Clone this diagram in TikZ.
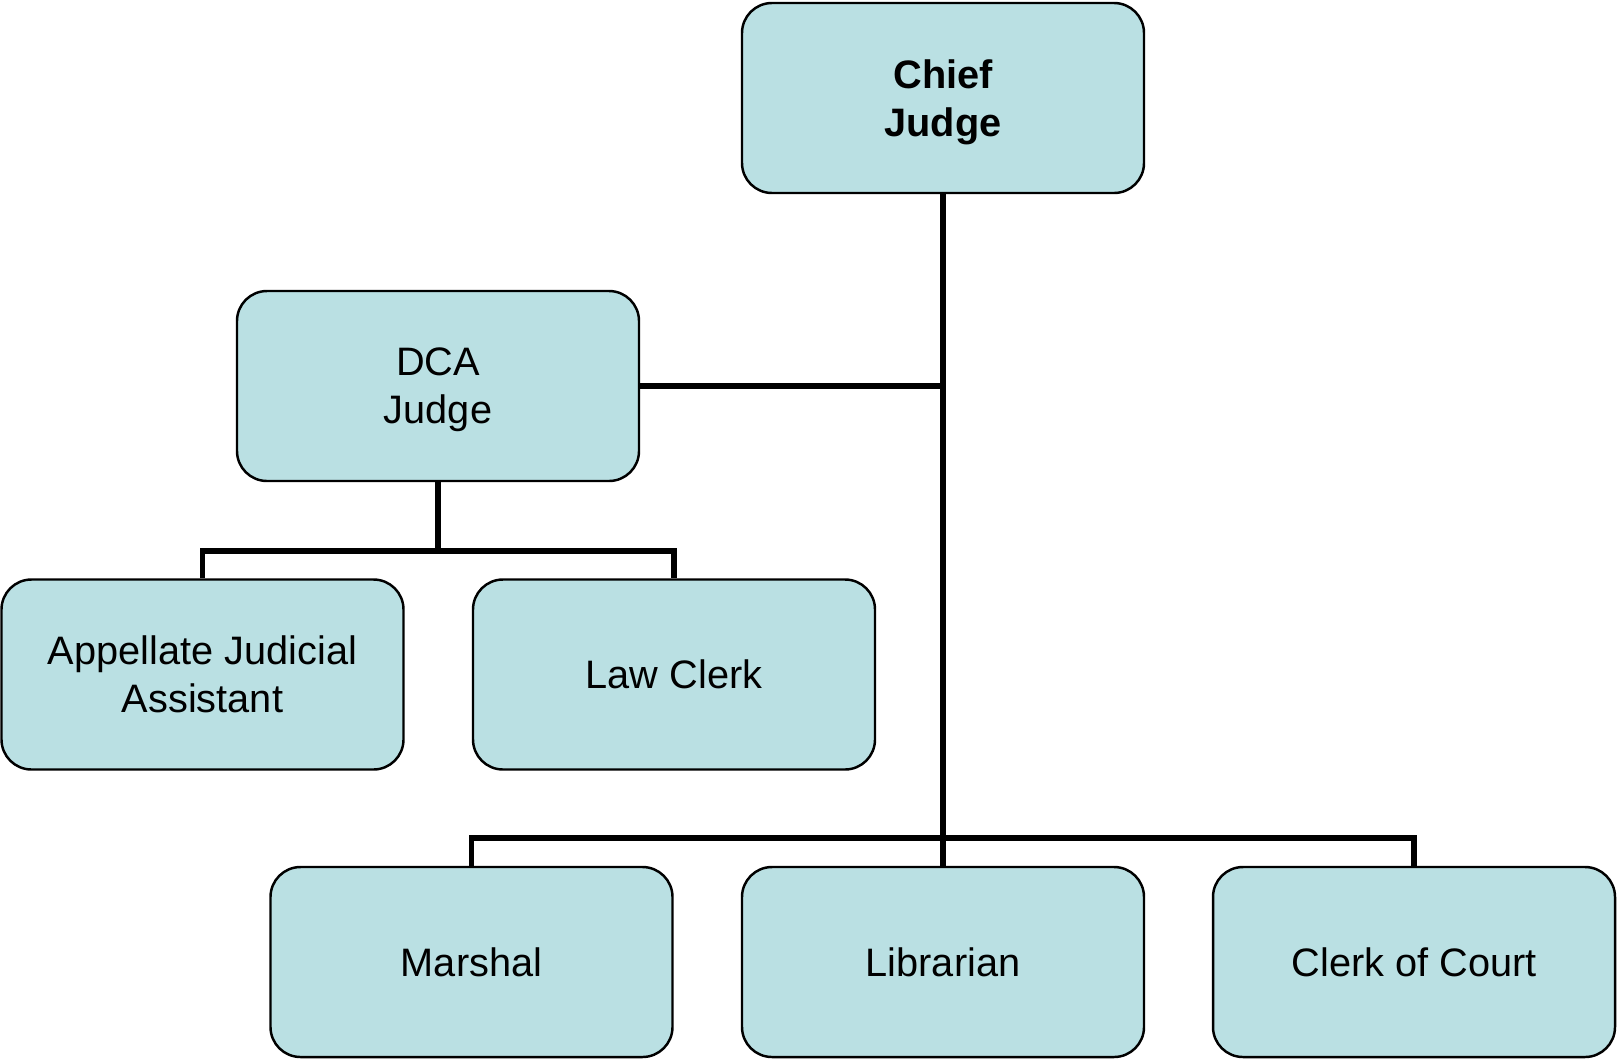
\documentclass[tikz,border=0pt]{standalone}
\usepackage{fontspec}
\setmainfont{Liberation Sans}
\definecolor{boxfill}{RGB}{186,224,227}

\begin{document}
\begin{tikzpicture}[
	post/.style={shape=rectangle,rounded corners=0.3cm,draw=black,line width=0.7pt,fill=boxfill,
		minimum width=4.02cm,minimum height=1.9cm,align=center,font=\fontsize{11.3}{13.6}\selectfont},
	twoline/.style={text depth=-1.2pt},
	link/.style={-,line width=1.5pt}
	]
	\useasboundingbox (0,0) rectangle (16.17,-10.59);
	
	\node[post,twoline] (chief) at (9.43,-0.98)     {\textbf{Chief}\\\textbf{Judge}};
	\node[post,twoline] (dca) at (4.38,-3.86) 	 {DCA\\Judge};
	\node[post] (aja) at (2.025,-6.745) 	 {Appellate Judicial\\Assistant};
	\node[post] (law) at (6.74,-6.745) 	 {Law Clerk};
	\node[post] (marshal) at (4.715,-9.62) 	 {Marshal};
	\node[post] (librarian) at (9.43,-9.62) 	 {Librarian};
	\node[post] (clerk) at (14.14,-9.62) 	 {Clerk of Court};
	
	\coordinate (dcabar) at (4.38,-5.51);
	\coordinate (staffbar) at (9.43,-8.38);
	
	\path[link] (chief) edge (librarian);
	\path[link] (dca.east) edge (dca.east -| chief.south);
	\path[link] (dca) edge (dcabar);
	\draw[link] (aja.north) |- (dcabar) -| (law.north);
	\draw[link] (marshal.north) |- (staffbar) -| (clerk.north);
	
\end{tikzpicture}
\end{document}
